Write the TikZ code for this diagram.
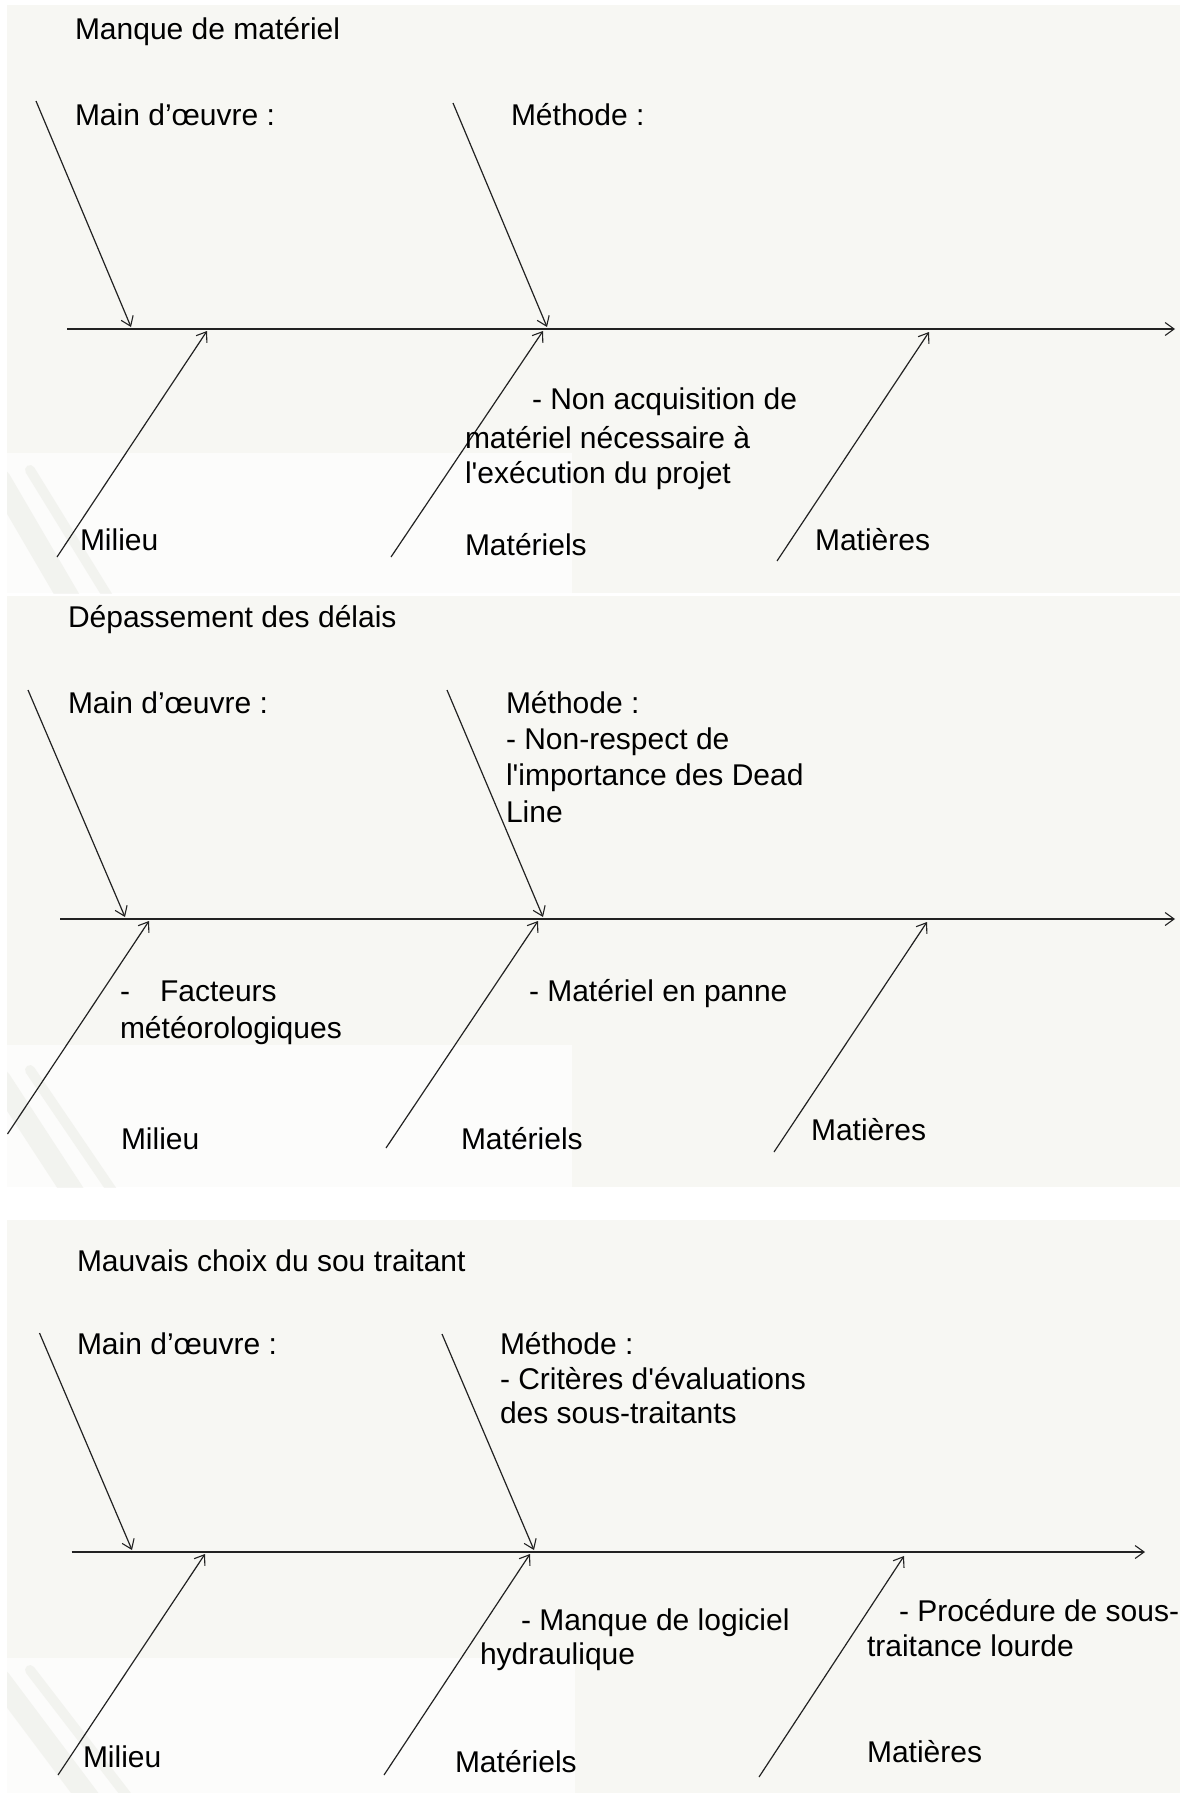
\documentclass[tikz,border=0pt]{standalone}
\usepackage{fontspec}
\setmainfont{Liberation Sans}[Ligatures=TeXOff]
\usetikzlibrary{arrows.meta}
\definecolor{panelbg}{HTML}{F7F7F3}
\definecolor{lightbg}{HTML}{FCFCFB}
\definecolor{ink}{HTML}{222222}
\definecolor{streak}{HTML}{C9CCBE}
\tikzset{
  lbl/.style={anchor=base west, inner sep=0pt, outer sep=0pt, text=black,
    font=\fontsize{30}{36}\selectfont},
  bone/.style={draw=ink, line width=1.2pt,
    -{Straight Barb[length=9pt,width=13pt,line width=1.1pt]}},
  panel/.style={fill=panelbg, draw=none},
  paper/.style={fill=lightbg, draw=none},
  penmark/.style={draw=streak, line cap=round, opacity=0.18}
}
\begin{document}
\begin{tikzpicture}[x=1pt,y=-1pt]
\useasboundingbox (0,0) rectangle (1180,1793);
\fill[white] (0,0) rectangle (1180,1793);

% slide backgrounds
\fill[panel] (7,5) rectangle (1180,593);
\fill[panel] (7,596) rectangle (1180,1187);
\fill[panel] (7,1220) rectangle (1180,1793);
\fill[paper] (7,453) rectangle (572,593);
\fill[paper] (7,1045) rectangle (572,1187);
\fill[paper] (7,1658) rectangle (575,1793);
% faint pen in the lower left corner of each slide
\begin{scope}
  \clip (7,5) rectangle (572,593);
  \draw[penmark, line width=22pt] (0,480) -- (70,600);
  \draw[penmark, line width=10pt] (30,470) -- (110,600);
\end{scope}
\begin{scope}
  \clip (7,596) rectangle (572,1187);
  \draw[penmark, line width=22pt] (0,1080) -- (75,1195);
  \draw[penmark, line width=10pt] (30,1070) -- (115,1195);
\end{scope}
\begin{scope}
  \clip (7,1220) rectangle (575,1793);
  \draw[penmark, line width=22pt] (0,1680) -- (90,1800);
  \draw[penmark, line width=10pt] (30,1670) -- (130,1800);
\end{scope}

% ---------- Manque de matériel ----------
\coordinate (a-s0) at (67,329);
\coordinate (a-s1) at (1175,329);
\coordinate (a-mo0) at (36,101);   \coordinate (a-mo1) at (131,327);
\coordinate (a-me0) at (453,103);  \coordinate (a-me1) at (547,327);
\coordinate (a-mi0) at (57,557);   \coordinate (a-mi1) at (207,331);
\coordinate (a-ma0) at (391,557);  \coordinate (a-ma1) at (543,331);
\coordinate (a-mt0) at (777,561);  \coordinate (a-mt1) at (929,332);
\draw[bone] (a-s0) -- (a-s1);
\draw[bone] (a-mo0) -- (a-mo1);
\draw[bone] (a-me0) -- (a-me1);
\draw[bone] (a-mi0) -- (a-mi1);
\draw[bone] (a-ma0) -- (a-ma1);
\draw[bone] (a-mt0) -- (a-mt1);
\node[lbl] (a-title) at (75,40) {Manque de matériel};
\node[lbl] (a-mo) at (75,125) {Main d’œuvre :};
\node[lbl] (a-me) at (511,125) {Méthode :};
\node[lbl] (a-ma1) at (532,409) {- Non acquisition de};
\node[lbl] (a-ma2) at (465,448) {matériel nécessaire à};
\node[lbl] (a-ma3) at (465,483) {l'exécution du projet};
\node[lbl] (a-mi) at (80,550) {Milieu};
\node[lbl] (a-ma) at (465,555) {Matériels};
\node[lbl] (a-mt) at (815,550) {Matières};

% ---------- Dépassement des délais ----------
\coordinate (b-s0) at (60,919);
\coordinate (b-s1) at (1175,919);
\coordinate (b-mo0) at (28,690);   \coordinate (b-mo1) at (125,917);
\coordinate (b-me0) at (447,690);  \coordinate (b-me1) at (543,917);
\coordinate (b-mi0) at (7.5,1134); \coordinate (b-mi1) at (149,921);
\coordinate (b-ma0) at (386,1148); \coordinate (b-ma1) at (538,921);
\coordinate (b-mt0) at (774,1152); \coordinate (b-mt1) at (927,922);
\draw[bone] (b-s0) -- (b-s1);
\draw[bone] (b-mo0) -- (b-mo1);
\draw[bone] (b-me0) -- (b-me1);
\draw[bone] (b-mi0) -- (b-mi1);
\draw[bone] (b-ma0) -- (b-ma1);
\draw[bone] (b-mt0) -- (b-mt1);
\node[lbl] (b-title) at (68,627) {Dépassement des délais};
\node[lbl] (b-mo) at (68,713) {Main d’œuvre :};
\node[lbl] (b-me) at (506,713) {Méthode :};
\node[lbl] (b-me1) at (506,749) {- Non-respect de};
\node[lbl] (b-me2) at (506,785) {l'importance des Dead};
\node[lbl] (b-me3) at (506,822) {Line};
\node[lbl] (b-mi1) at (120,1001) {-};
\node[lbl] (b-mi1b) at (160,1001) {Facteurs};
\node[lbl] (b-mi2) at (120,1038) {météorologiques};
\node[lbl] (b-ma1) at (529,1001) {- Matériel en panne};
\node[lbl] (b-mi) at (121,1149) {Milieu};
\node[lbl] (b-ma) at (461,1149) {Matériels};
\node[lbl] (b-mt) at (811,1140) {Matières};

% ---------- Mauvais choix du sou traitant ----------
\coordinate (c-s0) at (71.5,1552);
\coordinate (c-s1) at (1145,1552);
\coordinate (c-mo0) at (39.5,1333); \coordinate (c-mo1) at (132,1550);
\coordinate (c-me0) at (442,1334);  \coordinate (c-me1) at (534,1550);
\coordinate (c-mi0) at (58,1775);   \coordinate (c-mi1) at (205,1554);
\coordinate (c-ma0) at (384,1775);  \coordinate (c-ma1) at (530,1554);
\coordinate (c-mt0) at (759,1777);  \coordinate (c-mt1) at (904,1556);
\draw[bone] (c-s0) -- (c-s1);
\draw[bone] (c-mo0) -- (c-mo1);
\draw[bone] (c-me0) -- (c-me1);
\draw[bone] (c-mi0) -- (c-mi1);
\draw[bone] (c-ma0) -- (c-ma1);
\draw[bone] (c-mt0) -- (c-mt1);
\node[lbl] (c-title) at (77,1271) {Mauvais choix du sou traitant};
\node[lbl] (c-mo) at (77,1354) {Main d’œuvre :};
\node[lbl] (c-me) at (500,1354) {Méthode :};
\node[lbl] (c-me1) at (500,1389) {- Critères d'évaluations};
\node[lbl] (c-me2) at (500,1423) {des sous-traitants};
\node[lbl] (c-ma1) at (521,1630) {- Manque de logiciel};
\node[lbl] (c-ma2) at (480,1664) {hydraulique};
\node[lbl] (c-mt1) at (899,1621) {- Procédure de sous-};
\node[lbl] (c-mt2) at (867,1656) {traitance lourde};
\node[lbl] (c-mi) at (83,1767) {Milieu};
\node[lbl] (c-ma) at (455,1772) {Matériels};
\node[lbl] (c-mt) at (867,1762) {Matières};
\end{tikzpicture}
\end{document}
